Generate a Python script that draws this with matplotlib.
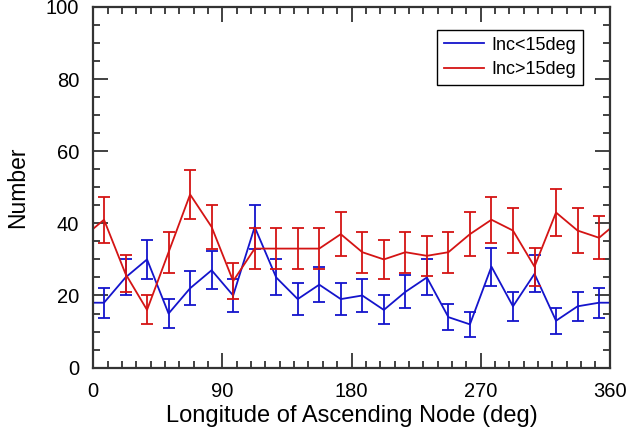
import numpy as np
import matplotlib
matplotlib.use("Agg")
import matplotlib.pyplot as plt
from matplotlib.ticker import MultipleLocator

plt.rcParams['font.family'] = ['Liberation Sans', 'DejaVu Sans']

# bin centres (15 deg bins), counts per bin
node_deg = [7.5, 22.5, 37.5, 52.5, 67.5, 82.5, 97.5, 112.5, 127.5, 142.5, 157.5, 172.5,
            187.5, 202.5, 217.5, 232.5, 247.5, 262.5, 277.5, 292.5, 307.5, 322.5, 337.5, 352.5]
low_inc = [18, 25, 30, 15, 22, 27, 20, 39, 25, 19, 23, 19,
           20, 16, 21, 25, 14, 12, 28, 17, 26, 13, 17, 18]
low_err = [4.2, 5.0, 5.5, 3.9, 4.7, 5.2, 4.5, 6.2, 5.0, 4.4, 4.8, 4.4,
           4.5, 4.0, 4.6, 5.0, 3.7, 3.5, 5.3, 4.1, 5.1, 3.6, 4.1, 4.2]
high_inc = [41, 26, 16, 32, 48, 39, 24, 33, 33, 33, 33, 37,
            32, 30, 32, 31, 32, 37, 41, 38, 28, 43, 38, 36]
high_err = [6.4, 5.1, 4.0, 5.7, 6.9, 6.2, 4.9, 5.7, 5.7, 5.7, 5.7, 6.1,
            5.7, 5.5, 5.7, 5.6, 5.7, 6.1, 6.4, 6.2, 5.3, 6.6, 6.2, 6.0]

BLUE = '#1414cc'
RED = '#d41414'

fig = plt.figure(figsize=(6.3, 4.29), dpi=100)
ax = fig.add_axes([0.148, 0.143, 0.82, 0.841])

x = np.array(node_deg)
# node longitude is periodic, so wrap the ends for the line
x_wrap = np.concatenate(([x[-1] - 360], x, [x[0] + 360]))
for counts, errs, col, lab in ((low_inc, low_err, BLUE, 'Inc<15deg'),
                               (high_inc, high_err, RED, 'Inc>15deg')):
    y = np.array(counts)
    y_wrap = np.concatenate(([y[-1]], y, [y[0]]))
    ax.plot(x_wrap, y_wrap, color=col, lw=1.3, label=lab)
    ax.errorbar(x, y, yerr=errs, fmt='none', ecolor=col, elinewidth=1.3,
                capsize=4.5, capthick=1.3)

ax.set_xlim(0, 360)
ax.set_ylim(0, 100)
ax.xaxis.set_major_locator(MultipleLocator(90))
ax.xaxis.set_minor_locator(MultipleLocator(10))
ax.yaxis.set_major_locator(MultipleLocator(20))
ax.yaxis.set_minor_locator(MultipleLocator(5))
ax.tick_params(which='both', direction='in', top=True, right=True,
               color='#333333', width=1.3, labelsize=14.5)
ax.tick_params(which='major', length=11, pad=10)
ax.tick_params(which='minor', length=5)
for sp in ax.spines.values():
    sp.set_color('#333333')
    sp.set_linewidth(1.6)

ax.set_xlabel('Longitude of Ascending Node (deg)', fontsize=17, labelpad=3)
ax.set_ylabel('Number', fontsize=16.5, labelpad=12)

leg = ax.legend(loc='upper right', bbox_to_anchor=(0.948, 0.937), fontsize=13,
                fancybox=False, framealpha=1, edgecolor='black',
                handlelength=2.2, handletextpad=0.4, borderpad=0.4,
                labelspacing=0.4, borderaxespad=0)
leg.get_frame().set_linewidth(1.0)

fig.savefig('out.png', dpi=100)
